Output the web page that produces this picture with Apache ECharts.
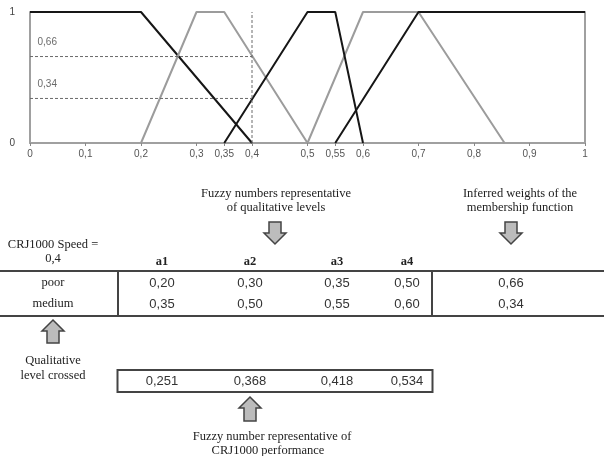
<!DOCTYPE html>
<html>
<head>
<meta charset="utf-8">
<script src="https://cdn.jsdelivr.net/npm/echarts@6/dist/echarts.min.js"></script>
<style>
  html, body { margin: 0; padding: 0; background: #fff; }
  #chart { width: 604px; height: 456px; }
</style>
</head>
<body>
<div id="chart"></div>
<script>
// membership functions (trapezoids a1, a2, a3, a4)
var veryPoor = [0, 0, 0.20, 0.40];
var poor = [0.20, 0.30, 0.35, 0.50];
var medium = [0.35, 0.50, 0.55, 0.60];
var good = [0.50, 0.60, 0.70, 0.855];
var veryGood = [0.55, 0.70, 1, 1];

var xTicks = [0, 0.1, 0.2, 0.3, 0.35, 0.4, 0.5, 0.55, 0.6, 0.7, 0.8, 0.9, 1];
var yTicks = [0, 1];

var speed = 0.4;
var rowNames = ['poor', 'medium'];
var colNames = ['a1', 'a2', 'a3', 'a4'];
var weights = [0.66, 0.34];
var performance = [0.251, 0.368, 0.418, 0.534];

var BLACK = '#161616';
var GRAY = '#9c9c9c';
var SERIF = '"Liberation Serif", "DejaVu Serif", serif';
var SANS = '"Liberation Sans", Arial, sans-serif';

function comma(v, d) {
    var s = d == null ? String(v) : v.toFixed(d);
    return s.replace('.', ',');
}

function trapezoid(t) {
    var pts = [];
    if (t[0] !== t[1]) pts.push([t[0], 0]);
    pts.push([t[1], 1]);
    pts.push([t[2], 1]);
    if (t[2] !== t[3]) pts.push([t[3], 0]);
    return pts;
}

function mfSeries(t, color) {
    return {
        type: 'line',
        data: trapezoid(t),
        symbol: 'none',
        lineStyle: { color: color, width: 2 },
        silent: true
    };
}

function dashSeries(data) {
    return {
        type: 'line',
        data: data,
        symbol: 'none',
        lineStyle: { color: '#6a6a6a', width: 1, type: [3, 2] },
        silent: true
    };
}

function downArrow(cx, y0, y1) {
    var yh = y0 + 11;
    return [[cx - 6, y0], [cx + 6, y0], [cx + 6, yh], [cx + 11, yh], [cx, y1], [cx - 11, yh], [cx - 6, yh]];
}

function upArrow(cx, y0, y1) {
    var yh = y0 + 11;
    return [[cx, y0], [cx + 11, yh], [cx + 6, yh], [cx + 6, y1], [cx - 6, y1], [cx - 6, yh], [cx - 11, yh]];
}

function txt(s, x, y, font, color) {
    return {
        type: 'text', x: x, y: y, silent: true,
        style: { text: s, font: font, fill: color || '#222', textAlign: 'center', textVerticalAlign: 'middle' }
    };
}

function hline(x1, x2, y) {
    return { type: 'line', silent: true, shape: { x1: x1, y1: y, x2: x2, y2: y }, style: { stroke: '#444', lineWidth: 2 } };
}

function vline(x, y1, y2) {
    return { type: 'line', silent: true, shape: { x1: x, y1: y1, x2: x, y2: y2 }, style: { stroke: '#444', lineWidth: 2 } };
}

function arrow(points) {
    return { type: 'polygon', silent: true, shape: { points: points }, style: { fill: '#bcbcbc', stroke: '#444', lineWidth: 1.5 } };
}

var colX = [162, 250, 337, 407];
var rowY = [283, 304];
var weightX = 511;
var nameX = 53;
var serifFont = '12.5px ' + SERIF;
var numFont = '13px ' + SANS;

var graphics = [];
graphics.push(txt('Fuzzy numbers representative', 276, 194, serifFont));
graphics.push(txt('of qualitative levels', 276, 208, serifFont));
graphics.push(txt('Inferred weights of the', 520, 194, serifFont));
graphics.push(txt('membership function', 520, 208, serifFont));
graphics.push(arrow(downArrow(275, 222, 244)));
graphics.push(arrow(downArrow(511, 222, 244)));
graphics.push(txt('CRJ1000 Speed =', nameX, 245, serifFont));
graphics.push(txt(comma(speed), nameX, 259, serifFont));
colNames.forEach(function (c, i) {
    graphics.push(txt(c, colX[i], 262, 'bold ' + serifFont));
});
graphics.push(hline(0, 604, 271));
graphics.push(hline(0, 604, 316));
graphics.push(vline(118, 271, 316));
graphics.push(vline(432, 271, 316));
var rows = [poor, medium];
rowNames.forEach(function (r, j) {
    graphics.push(txt(r, nameX, rowY[j], serifFont));
    rows[j].forEach(function (v, i) {
        graphics.push(txt(comma(v, 2), colX[i], rowY[j], numFont, '#333'));
    });
    graphics.push(txt(comma(weights[j], 2), weightX, rowY[j], numFont, '#333'));
});
graphics.push(arrow(upArrow(53, 320, 343)));
graphics.push(txt('Qualitative', nameX, 361, serifFont));
graphics.push(txt('level crossed', nameX, 376, serifFont));
graphics.push({
    type: 'rect', silent: true,
    shape: { x: 117.5, y: 370, width: 315, height: 22 },
    style: { fill: 'none', stroke: '#444', lineWidth: 2 }
});
performance.forEach(function (v, i) {
    graphics.push(txt(comma(v, 3), colX[i], 381.5, numFont, '#333'));
});
graphics.push(arrow(upArrow(250, 397, 421)));
graphics.push(txt('Fuzzy number representative of', 272, 437, serifFont));
graphics.push(txt('CRJ1000 performance', 268, 451, serifFont));

var series = [
    mfSeries(veryPoor, BLACK),
    mfSeries(poor, GRAY),
    mfSeries(good, GRAY),
    mfSeries(medium, BLACK),
    mfSeries(veryGood, BLACK),
    dashSeries([[speed, 0], [speed, 1]])
];
weights.forEach(function (w) {
    series.push(dashSeries([[0, w], [speed, w]]));
});
series.push({
    type: 'scatter',
    data: weights.map(function (w) { return [0, w]; }),
    symbolSize: 1,
    itemStyle: { color: 'transparent' },
    silent: true,
    label: {
        show: true,
        position: [8, -19],
        formatter: function (p) { return comma(p.value[1], 2); },
        fontSize: 10,
        fontFamily: SANS,
        color: '#444'
    }
});

var chart = echarts.init(document.getElementById('chart'));
var option = {
    animation: false,
    backgroundColor: '#fff',
    grid: { left: 30, right: 19, top: 12, bottom: 313 },
    xAxis: {
        type: 'value',
        min: 0,
        max: 1,
        interval: 0.05,
        axisLine: { lineStyle: { color: '#a0a0a0', width: 2 } },
        axisTick: { show: true, length: 3, customValues: xTicks, lineStyle: { color: '#888' } },
        axisLabel: {
            customValues: xTicks,
            margin: 6,
            fontSize: 10,
            fontFamily: SANS,
            color: '#555',
            formatter: function (v) { return comma(v); }
        },
        splitLine: { show: false }
    },
    yAxis: [{
        type: 'value',
        min: 0,
        max: 1,
        interval: 1,
        axisLine: { show: true, lineStyle: { color: '#a0a0a0', width: 2 } },
        axisTick: { show: false },
        axisLabel: {
            customValues: yTicks,
            margin: 15,
            fontSize: 10,
            fontFamily: SANS,
            color: '#444'
        },
        splitLine: { show: false }
    }, {
        type: 'value',
        position: 'right',
        min: 0,
        max: 1,
        axisLine: { show: true, lineStyle: { color: '#a0a0a0', width: 2 } },
        axisTick: { show: false },
        axisLabel: { show: false },
        splitLine: { show: false }
    }],
    series: series,
    graphic: graphics
};
chart.setOption(option);
</script>
</body>
</html>
